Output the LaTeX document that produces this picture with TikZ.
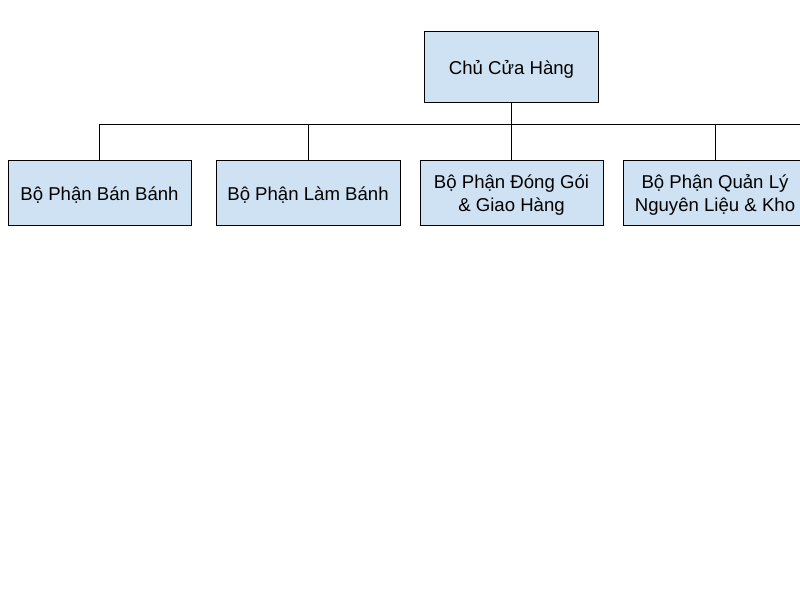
\documentclass[tikz,border=0pt]{standalone}
\usepackage{fontspec}
\setmainfont{Liberation Sans}
\definecolor{boxblue}{HTML}{CFE2F3}
\begin{document}
\begin{tikzpicture}[x=1pt,y=-1pt,
  orgbox/.style={draw=black,fill=boxblue,line width=1pt,inner sep=0pt,
    minimum height=65pt,minimum width=183pt},
  boxtext/.style={inner sep=0pt,align=center,
    font=\fontsize{18.6}{22.5}\selectfont},
  link/.style={draw=black,line width=1pt}]
\useasboundingbox (0,0) rectangle (800,600);
\clip (0,0) rectangle (800,600);
\node[orgbox,minimum width=174pt,minimum height=71pt] (owner) at (511.5,66.5) {};
\node[orgbox] (sales) at (99.5,192.5) {};
\node[orgbox,minimum width=184pt] (bake) at (308,192.5) {};
\node[orgbox] (pack) at (511.5,192.5) {};
\node[orgbox,minimum width=184pt] (store) at (715,192.5) {};
\node[boxtext] (ownerT) at ([yshift=-2.5pt]owner.center) {Chủ Cửa Hàng};
\node[boxtext] (salesT) at ([yshift=-2.5pt]sales.center) {Bộ Phận Bán Bánh};
\node[boxtext] (bakeT) at ([yshift=-2.5pt]bake.center) {Bộ Phận Làm Bánh};
\node[boxtext] (packT) at ([yshift=-2.5pt]pack.center) {Bộ Phận Đóng Gói\\\& Giao Hàng};
\node[boxtext] (storeT) at ([yshift=-2.5pt]store.center) {Bộ Phận Quản Lý\\Nguyên Liệu \& Kho};
\coordinate (offright) at (830,124);
\draw[link] (owner.south) -- (pack.north);
\draw[link] (sales.north) |- (offright);
\draw[link] (bake.north) -- (bake.north |- offright);
\draw[link] (store.north) -- (store.north |- offright);
\end{tikzpicture}
\end{document}
